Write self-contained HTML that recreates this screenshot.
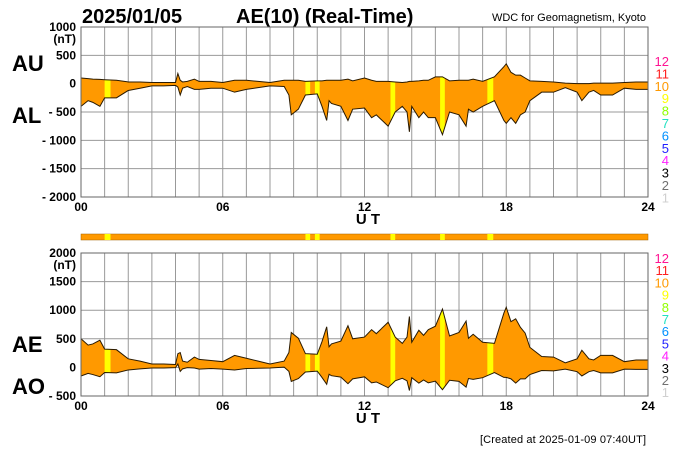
<!DOCTYPE html>
<html><head><meta charset="utf-8"><style>
body{margin:0;background:#fff;width:700px;height:450px;overflow:hidden;font-family:"Liberation Sans",sans-serif}
svg text{font-family:"Liberation Sans",sans-serif}
</style></head><body>
<svg id="c" width="700" height="450" xmlns="http://www.w3.org/2000/svg">
<text x="82" y="23" font-size="20" font-weight="bold">2025/01/05</text>
<text x="236" y="23" font-size="20" font-weight="bold">AE(10) (Real-Time)</text>
<text x="646" y="21" font-size="11" text-anchor="end">WDC for Geomagnetism, Kyoto</text>
<text x="12" y="71" font-size="22" font-weight="bold">AU</text>
<text x="12" y="123" font-size="22" font-weight="bold">AL</text>
<text x="12" y="352" font-size="22" font-weight="bold">AE</text>
<text x="12" y="394" font-size="22" font-weight="bold">AO</text>
<text x="368" y="224" font-size="15" font-weight="bold" text-anchor="middle">U T</text>
<text x="368" y="423" font-size="15" font-weight="bold" text-anchor="middle">U T</text>
<text x="646" y="443" font-size="11" text-anchor="end" textLength="166">[Created at 2025-01-09 07:40UT]</text>
<g id="g"></g>
</svg>
<script>
const hours=[0,0.3,0.5,0.8,1,1.5,2,2.5,3,3.5,4,4.1,4.2,4.3,4.5,4.8,5,5.5,6,6.5,7,7.5,8,8.6,8.8,8.9,9.2,9.5,10,10.2,10.4,10.5,10.6,11,11.3,11.5,12,12.3,12.5,13,13.3,13.6,13.8,13.9,14,14.3,14.5,14.7,15,15.3,15.6,16,16.3,16.4,16.6,17,17.5,17.9,18,18.2,18.4,18.6,18.8,19,19.5,20,20.5,21,21.2,21.5,21.7,22,22.5,23,23.5,24];
const au=[100,90,80,75,70,60,30,30,20,20,20,180,60,30,40,80,40,40,20,60,60,40,20,60,60,60,60,40,50,50,60,60,60,60,80,50,100,60,40,40,30,20,30,40,40,50,60,60,120,120,50,60,60,60,80,40,120,300,350,200,150,150,100,50,40,30,10,0,0,0,10,10,10,20,30,30];
const al=[-400,-300,-330,-400,-250,-250,-120,-80,-40,-40,-30,-60,-200,-80,-50,-100,-100,-80,-80,-150,-100,-70,-40,-50,-200,-550,-450,-200,-180,-400,-650,-300,-350,-400,-650,-450,-430,-600,-550,-750,-500,-400,-500,-850,-400,-600,-500,-600,-600,-900,-500,-550,-750,-450,-500,-400,-300,-650,-700,-600,-700,-550,-500,-300,-150,-150,-70,-150,-300,-150,-120,-200,-200,-80,-100,-100];
const stripes=[[1.0,1.25],[9.5,9.7],[9.9,10.1],[13.1,13.3],[15.2,15.4],[17.2,17.45]];
const topTicks=["1000","500","0","- 500","- 1000","- 1500","- 2000"];
const topVals=[1000,500,0,-500,-1000,-1500,-2000];
const botTicks=["2000","1500","1000","500","0","- 500"];
const botVals=[2000,1500,1000,500,0,-500];
const xTicks=["00","06","12","18","24"];
const xTickH=[0,6,12,18,24];
const legNums=["12","11","10","9","8","7","6","5","4","3","2","1"];
const legCols=["#ff1493","#ff2020","#ff9900","#ffff00","#90ff00","#20e0c0","#0090ff","#2020ff","#ff20ff","#000000","#707070","#d0d0d0"];
const ae=au.map((v,i)=>v-al[i]);
const ao=au.map((v,i)=>(v+al[i])/2);

const NS="http://www.w3.org/2000/svg",G=document.getElementById('g');
function mk(t,a,p){const e=document.createElementNS(NS,t);for(const k in a)e.setAttribute(k,a[k]);(p||G).appendChild(e);return e;}
const X0=81,X1=648;const xs=h=>X0+(X1-X0)*h/24;

function panel(id,yTop,yBot,vMax,vMin,ticks,tvals,upper,lower,legTop,legStep){
  const ys=v=>yTop+(vMax-v)/(vMax-vMin)*(yBot-yTop);
  const grid=mk('g',{});
  
  
  for(let h=0;h<=24;h++)mk('line',{x1:xs(h),x2:xs(h),y1:yTop,y2:yBot,stroke:'#999','stroke-width':1},grid);
  tvals.forEach(v=>mk('line',{x1:X0,x2:X1,y1:ys(v),y2:ys(v),stroke:'#999','stroke-width':1},grid));
  let up=hours.map((h,i)=>xs(h)+','+ys(upper[i]));
  let lo=hours.map((h,i)=>xs(h)+','+ys(lower[i])).reverse();
  const cp=mk('clipPath',{id:id+'clip'});
  mk('polygon',{points:up.concat(lo).join(' ')},cp);
  const area=mk('polygon',{points:up.concat(lo).join(' '),fill:'#ff9900'});
  
  
  stripes.forEach(s=>{const r=mk('rect',{x:xs(s[0]),y:yTop,width:xs(s[1])-xs(s[0]),height:yBot-yTop,fill:'#ffff00','clip-path':'url(#'+id+'clip)'});
    
    });
  const l1=mk('polyline',{points:up.join(' '),fill:'none',stroke:'#2a1a00','stroke-width':1});
  
  
  const l2=mk('polyline',{points:lo.join(' '),fill:'none',stroke:'#2a1a00','stroke-width':1});
  
  
  mk('rect',{x:X0,y:yTop,width:X1-X0,height:yBot-yTop,fill:'none',stroke:'#666'});
  tvals.forEach((v,i)=>{const t=mk('text',{x:76,y:ys(v)+4,'font-size':12,'font-weight':'bold','text-anchor':'end'});t.textContent=ticks[i];
    
    });
  const nt=mk('text',{x:76,y:yTop+16,'font-size':12,'font-weight':'bold','text-anchor':'end'});nt.textContent='(nT)';
  
  
  xTickH.forEach((h,i)=>{const t=mk('text',{x:xs(h),y:yBot+14,'font-size':12,'font-weight':'bold','text-anchor':'middle'});t.textContent=xTicks[i];
    
    });
  legNums.forEach((n,i)=>{const t=mk('text',{x:669,y:legTop+i*legStep+5,'font-size':13,'text-anchor':'end',fill:legCols[i]});t.textContent=n;
    
    });
}
panel('top',27,197,1000,-2000,topTicks,topVals,au,al,61,12.4);
panel('bottom',253,396,2000,-500,botTicks,botVals,ae,ao,258,12.2);
const bar=mk('rect',{x:X0,y:234,width:X1-X0,height:6,fill:'#ff9900',stroke:'#a06000','stroke-width':0.5});


stripes.forEach(s=>{const r=mk('rect',{x:xs(s[0]),y:234,width:xs(s[1])-xs(s[0]),height:6,fill:'#ffff00'});
  
  });
</script>
</body></html>
